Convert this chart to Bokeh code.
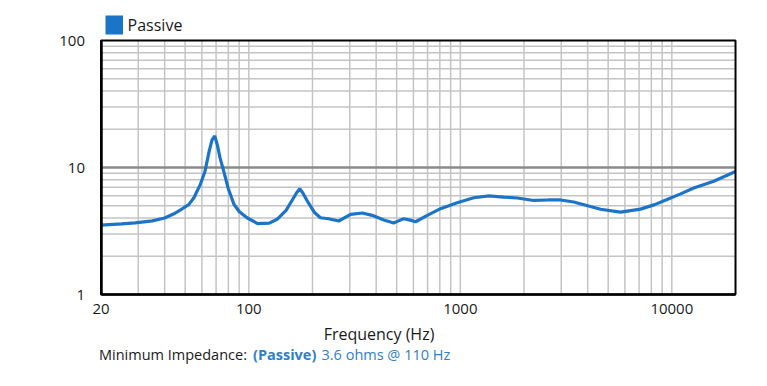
import math
from bokeh.plotting import figure
from bokeh.models import (FixedTicker, BasicTickFormatter, Legend, LegendItem,
                          Label, Range1d, BoxAnnotation)
from bokeh.embed import file_html
from bokeh.resources import INLINE

# ---- data ----
freq_hz = [20, 25, 29, 35, 40, 44, 48, 52, 55, 59, 62, 65, 67, 69, 71, 73, 76, 80,
           85, 90, 98, 110, 125, 136, 150, 160, 168, 174, 180, 191, 205, 218, 238,
           266, 303, 344, 383, 435, 484, 510, 540, 580, 614, 698, 806, 966, 1158,
           1364, 1600, 1858, 2226, 2600, 2976, 3438, 4000, 4600, 5720, 7112, 8300,
           9500, 11000, 12700, 15780, 20000]
impedance_ohms = [3.52, 3.6, 3.67, 3.8, 4.0, 4.3, 4.69, 5.1, 5.78, 7.37, 9.3, 13.5,
                  16.5, 17.7, 15.0, 12.0, 9.4, 6.8, 5.13, 4.5, 4.02, 3.62, 3.65, 3.91,
                  4.6, 5.5, 6.3, 6.8, 6.3, 5.28, 4.4, 4.02, 3.95, 3.79, 4.28, 4.38,
                  4.2, 3.86, 3.66, 3.8, 3.95, 3.85, 3.74, 4.2, 4.74, 5.28, 5.78, 5.97,
                  5.85, 5.75, 5.5, 5.55, 5.55, 5.35, 5.0, 4.69, 4.45, 4.7, 5.1, 5.6,
                  6.2, 6.9, 7.8, 9.3]

x_limits = [20, 20000]
y_limits = [1, 100]
x_tick_values = [20, 100, 1000, 10000]
x_tick_labels = ["20", "100", "1000", "10000"]
y_tick_values = [1, 10, 100]
y_tick_labels = ["1", "10", "100"]
x_grid_values = [30, 40, 50, 60, 70, 80, 90, 100,
                 200, 300, 400, 500, 600, 700, 800, 900, 1000,
                 2000, 3000, 4000, 5000, 6000, 7000, 8000, 9000, 10000]
y_major_grid = [10]
y_minor_grid = [2, 3, 4, 5, 6, 7, 8, 9, 20, 30, 40, 50, 60, 70, 80, 90]

series_name = "Passive"
x_title = "Frequency (Hz)"
footer_prefix = "Minimum Impedance:"
footer_series = "(Passive)"
footer_value = "3.6 ohms @ 110 Hz"

FONT = "Open Sans"
BLUE = "#1c74c9"
TEXT_BLUE = "#2f80c6"

# ---- layout (pixels on the canvas) ----
W, H = 760, 380
PX_LEFT, PX_RIGHT, PX_TOP, PX_BOTTOM = 100.5, 735.0, 40.0, 294.0

dec_x = (PX_RIGHT - PX_LEFT) / math.log10(x_limits[1] / x_limits[0])
dec_y = (PX_BOTTOM - PX_TOP) / math.log10(y_limits[1] / y_limits[0])
x_range = Range1d(x_limits[0] / 10 ** (PX_LEFT / dec_x),
                  x_limits[1] * 10 ** ((W - PX_RIGHT) / dec_x))
y_range = Range1d(y_limits[0] / 10 ** ((H - PX_BOTTOM) / dec_y),
                  y_limits[1] * 10 ** (PX_TOP / dec_y))

p = figure(x_axis_type="log", y_axis_type="log", x_range=x_range, y_range=y_range,
           width=W, height=H, min_border=0,
           output_backend="svg", toolbar_location=None)
p.min_border_left = p.min_border_right = p.min_border_top = p.min_border_bottom = 0
p.background_fill_color = "white"
p.border_fill_color = "white"
p.outline_line_color = None
p.xgrid.visible = False
p.ygrid.visible = False

# axes drawn at the chart box edges
p.xaxis.fixed_location = y_limits[0]
p.yaxis.fixed_location = x_limits[0]
p.xaxis.bounds = tuple(x_limits)
p.yaxis.bounds = tuple(y_limits)
p.xaxis.ticker = FixedTicker(ticks=x_tick_values, minor_ticks=[])
p.yaxis.ticker = FixedTicker(ticks=y_tick_values, minor_ticks=[])
p.xaxis.formatter = BasicTickFormatter()
p.yaxis.formatter = BasicTickFormatter()
p.xaxis.major_label_overrides = {v: t for v, t in zip(x_tick_values, x_tick_labels)}
p.yaxis.major_label_overrides = {v: t for v, t in zip(y_tick_values, y_tick_labels)}
for ax in (p.xaxis[0], p.yaxis[0]):
    ax.axis_line_color = "black"
    ax.axis_line_width = 2.5
    ax.major_tick_line_color = None
    ax.minor_tick_line_color = None
    ax.major_label_text_font = FONT
    ax.major_label_text_font_size = "15px"
    ax.major_label_text_color = "#1a1a1a"
p.yaxis.major_label_standoff = 10
p.xaxis.major_label_standoff = 3

# grid lines, limited to the chart box
n = len(x_grid_values)
p.segment(x0=x_grid_values, x1=x_grid_values, y0=[y_limits[0]] * n,
          y1=[y_limits[1]] * n, line_color="#c4c4c4", line_width=1.5)
m = len(y_minor_grid)
p.segment(x0=[x_limits[0]] * m, x1=[x_limits[1]] * m, y0=y_minor_grid,
          y1=y_minor_grid, line_color="#c4c4c4", line_width=1.5)
k = len(y_major_grid)
p.segment(x0=[x_limits[0]] * k, x1=[x_limits[1]] * k, y0=y_major_grid,
          y1=y_major_grid, line_color="#8a8a8a", line_width=2.5)

# data line
p.line(freq_hz, impedance_ohms, line_color=BLUE, line_width=3.2)

# chart box border
p.quad(left=[x_limits[0]], right=[x_limits[1]], bottom=[y_limits[0]],
       top=[y_limits[1]], fill_alpha=0, line_color="black", line_width=2)

# legend: text via Legend, colour swatch via a box in canvas pixels
swatch = p.quad(left=[], right=[], top=[], bottom=[], fill_color=BLUE,
                line_color=None)
legend = Legend(items=[LegendItem(label=series_name, renderers=[swatch])],
                location=(102.6, H - 12.6 - 24), orientation="horizontal",
                glyph_width=24, glyph_height=24, label_height=24,
                label_standoff=1, margin=0, padding=0, spacing=0,
                border_line_color=None, background_fill_alpha=0,
                label_text_font=FONT, label_text_font_size="16px",
                label_text_color="#1a1a1a")
p.add_layout(legend)
p.add_layout(BoxAnnotation(left=105, right=122.5, top=15, bottom=34,
                           left_units="canvas", right_units="canvas",
                           top_units="canvas", bottom_units="canvas",
                           fill_color=BLUE, fill_alpha=1.0, line_color=None,
                           level="overlay"))

# x axis title and footer
p.add_layout(Label(x=x_limits[0], y=y_limits[0], x_offset=278, y_offset=-39,
                   text=x_title, text_align="center", text_baseline="alphabetic",
                   text_font=FONT, text_font_size="16px", text_color="#1a1a1a"))
p.add_layout(Label(x=x_limits[0], y=y_limits[0], x_offset=-2, y_offset=-60,
                   text=footer_prefix, text_baseline="alphabetic", text_font=FONT,
                   text_font_size="14.5px", text_color="#1a1a1a"))
p.add_layout(Label(x=x_limits[0], y=y_limits[0], x_offset=152, y_offset=-60,
                   text=footer_series, text_baseline="alphabetic", text_font=FONT,
                   text_font_style="bold", text_font_size="14.5px",
                   text_color=TEXT_BLUE))
p.add_layout(Label(x=x_limits[0], y=y_limits[0], x_offset=220.5, y_offset=-60,
                   text=footer_value, text_baseline="alphabetic", text_font=FONT,
                   text_font_size="14.5px", text_color=TEXT_BLUE))

open("out.html", "w").write(file_html(p, INLINE))
